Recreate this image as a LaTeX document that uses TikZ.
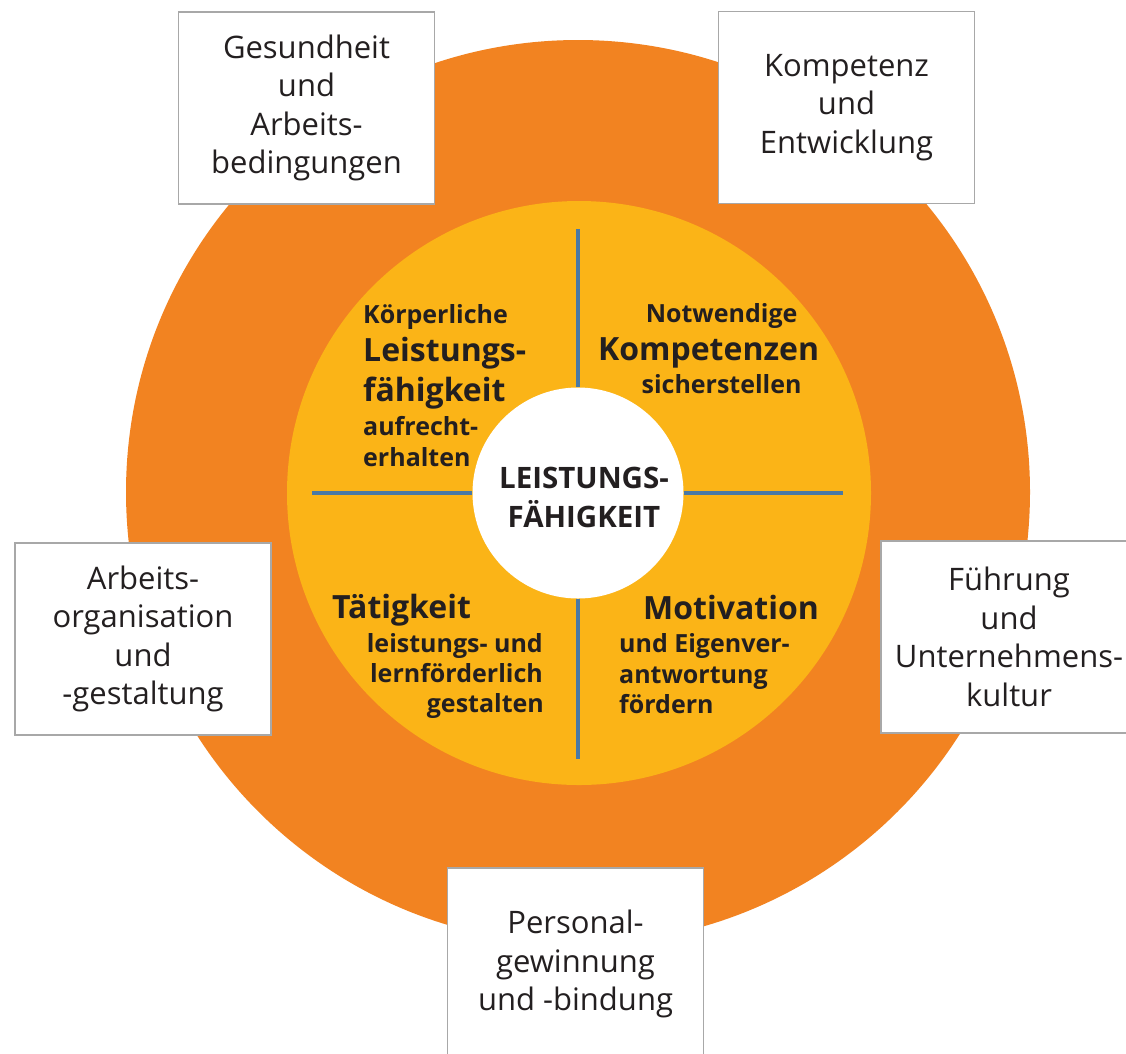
\documentclass[tikz,border=0pt]{standalone}
\usepackage{fontspec}
\setmainfont{Open Sans}
\begin{document}
\begin{tikzpicture}[x=1pt,y=-1pt]
\definecolor{orng}{HTML}{F28321}
\definecolor{yel}{HTML}{FBB417}
\definecolor{lnc}{HTML}{4A79A5}
\definecolor{txt}{HTML}{231F20}
\definecolor{bord}{HTML}{A8A8A8}
\tikzset{
  box/.style={draw=bord, line width=1.5pt, fill=white, minimum width=256pt, minimum height=192pt,
    inner sep=0pt, align=center, text=txt, font=\fontsize{31}{38.5}\selectfont},
  big/.style={inner sep=0pt, text=txt, font=\bfseries\fontsize{32}{38}\selectfont},
  small/.style={inner sep=0pt, text=txt, font=\bfseries\fontsize{25}{30}\selectfont},
  core/.style={inner sep=0pt, text=txt, font=\bfseries\fontsize{29.5}{38}\selectfont},
  cross/.style={draw=lnc, line width=3.5pt},
}
\useasboundingbox (0,0) rectangle (1126,1053);
\clip (0,0) rectangle (1126,1053);
\fill[white] (0,0) rectangle (1126,1053);
% circles
\node[circle, fill=orng, minimum size=904pt, inner sep=0pt] (outer) at (578,492) {};
\node[circle, fill=yel, minimum size=584pt, inner sep=0pt] (inner) at (579,493) {};
\node[circle, fill=white, minimum size=211pt, inner sep=0pt] (center) at (578,493) {};
% cross
\coordinate (ctop) at (578,229);
\coordinate (cbot) at (578,759);
\coordinate (cleft) at (312,493);
\coordinate (cright) at (843,493);
\draw[cross] (ctop) -- (center.north);
\draw[cross] (center.south) -- (cbot);
\draw[cross] (cleft) -- (center.west);
\draw[cross] (center.east) -- (cright);
% centre text
\node[core, anchor=base] (lf1) at (584,488) {LEISTUNGS-};
\node[core, anchor=base] (lf2) at (584,527) {FÄHIGKEIT};
% top-left quadrant
\node[small, anchor=base west] (tl1) at (363,323) {Körperliche};
\node[big, anchor=base west] (tl2) at (363,361) {Leistungs-};
\node[big, anchor=base west] (tl3) at (363,401) {fähigkeit};
\node[small, anchor=base west] (tl4) at (363,435) {aufrecht-};
\node[small, anchor=base west] (tl5) at (363,466) {erhalten};
% top-right quadrant
\node[small, anchor=base] (tr1) at (721.6,322.5) {Notwendige};
\node[big, anchor=base] (tr2) at (708.6,360) {Kompetenzen};
\node[small, anchor=base] (tr3) at (721.6,393) {sicherstellen};
% bottom-left quadrant
\node[big, anchor=base west] (bl1) at (332,618) {Tätigkeit};
\node[small, anchor=base east] (bl2) at (543,652) {leistungs- und};
\node[small, anchor=base east] (bl3) at (543,682) {lernförderlich};
\node[small, anchor=base east] (bl4) at (544,712) {gestalten};
% bottom-right quadrant
\node[big, anchor=base west] (br1) at (643,619) {Motivation};
\node[small, anchor=base west] (br2) at (619,652) {und Eigenver-};
\node[small, anchor=base west] (br3) at (619,683) {antwortung};
\node[small, anchor=base west] (br4) at (619,713) {fördern};
% outer boxes
\node[box] (b1) at (306.5,108) {Gesundheit\\und\\Arbeits-\\bedingungen};
\node[box] (b2) at (846.5,107.5) {Kompetenz\\und\\Entwicklung};
\node[box] (b3) at (143,639) {Arbeits-\\organisation\\und\\-gestaltung};
\node[box] (b4) at (1009,637) {Führung\\und\\Unternehmens-\\kultur};
\node[box] (b5) at (575.5,964) {Personal-\\gewinnung\\und -bindung};
\end{tikzpicture}
\end{document}
